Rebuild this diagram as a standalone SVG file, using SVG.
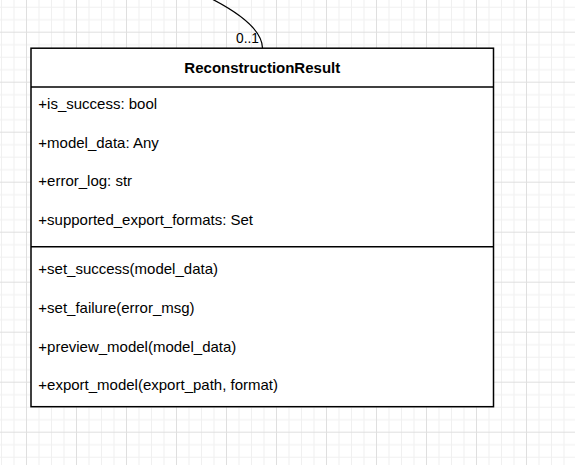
<svg xmlns="http://www.w3.org/2000/svg" width="575" height="465" viewBox="0 0 575 465">
  <defs>
    <pattern id="grid" patternUnits="userSpaceOnUse" x="26" y="31.7" width="50" height="50">
      <rect x="12.5" y="0" width="1" height="50" fill="#f0f0f0"/>
      <rect x="25" y="0" width="1" height="50" fill="#f0f0f0"/>
      <rect x="37.5" y="0" width="1" height="50" fill="#f0f0f0"/>
      <rect x="0" y="12.5" width="50" height="1" fill="#f0f0f0"/>
      <rect x="0" y="25" width="50" height="1" fill="#f0f0f0"/>
      <rect x="0" y="37.5" width="50" height="1" fill="#f0f0f0"/>
      <rect x="0" y="0" width="1" height="50" fill="#dfdfdf"/>
      <rect x="0" y="0" width="50" height="1" fill="#dfdfdf"/>
    </pattern>
  </defs>
  <style>
    .box { fill: #ffffff; stroke: #000000; stroke-width: 1.5; }
    .sep { stroke: #000000; stroke-width: 1.5; fill: none; }
    .title { font-family: "Liberation Sans", Arial, sans-serif; font-size: 15px; font-weight: bold; fill: #000000; }
    .member { font-family: "Liberation Sans", Arial, sans-serif; font-size: 15px; fill: #000000; }
    .edge { fill: none; stroke: #000000; stroke-width: 1.25; }
    .elabel { font-family: "Liberation Sans", Arial, sans-serif; font-size: 13.75px; fill: #000000; }
  </style>
  <rect x="0" y="0" width="575" height="465" fill="#ffffff"/>
  <rect x="0" y="0" width="575" height="465" fill="url(#grid)"/>

  <g id="connectors">
    <path class="edge" d="M 208 -3 C 234 10, 262 28, 262.5 48"/>
    <text class="elabel" x="236" y="42.7">0..1</text>
  </g>

  <g id="ReconstructionResult">
    <rect class="box" x="31" y="48.2" width="462.5" height="358.5"/>
    <line class="sep" x1="31" y1="86.9" x2="493.5" y2="86.9"/>
    <line class="sep" x1="31" y1="246.7" x2="493.5" y2="246.7"/>
    <text class="title" x="262.3" y="72.5" text-anchor="middle">ReconstructionResult</text>
    <text class="member" x="38.3" y="108.7">+is_success: bool</text>
    <text class="member" x="38.3" y="147.5">+model_data: Any</text>
    <text class="member" x="38.3" y="186.2">+error_log: str</text>
    <text class="member" x="38.3" y="225">+supported_export_formats: Set</text>
    <text class="member" x="38.3" y="274">+set_success(model_data)</text>
    <text class="member" x="38.3" y="312.7">+set_failure(error_msg)</text>
    <text class="member" x="38.3" y="351.5">+preview_model(model_data)</text>
    <text class="member" x="38.3" y="390.2">+export_model(export_path, format)</text>
  </g>
</svg>
